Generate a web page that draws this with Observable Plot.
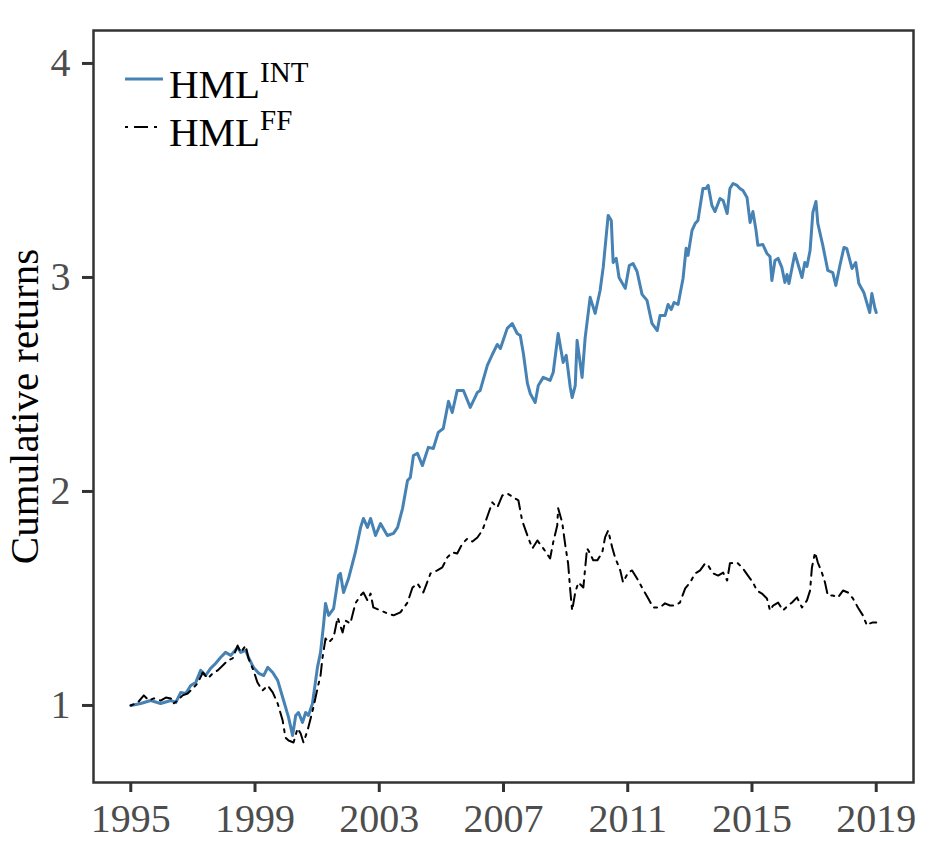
<!DOCTYPE html>
<html><head><meta charset="utf-8">
<script src="https://cdn.jsdelivr.net/npm/d3@7"></script>
<script src="https://cdn.jsdelivr.net/npm/@observablehq/plot@0.6"></script>
<style>body{margin:0;background:#fff} #chart{width:937px;height:845px}</style>
</head><body><div id="chart"></div>
<script>
const xTicks = [1995, 1999, 2003, 2007, 2011, 2015, 2019];
const yTicks = [1, 2, 3, 4];
const yLabel = "Cumulative returns";
const legendBase = "HML";
const legendSup = ["INT", "FF"];

// [decimal year, cumulative return]
const hmlInt = [
[1995.00,1.000],[1995.32,1.009],[1995.64,1.023],[1995.96,1.009],[1996.29,1.023],[1996.45,1.014],
[1996.61,1.061],[1996.77,1.056],[1996.93,1.093],[1997.09,1.107],[1997.25,1.164],[1997.41,1.140],
[1997.57,1.173],[1997.73,1.196],[1997.89,1.224],[1998.05,1.248],[1998.22,1.234],[1998.44,1.271],
[1998.54,1.248],[1998.70,1.257],[1998.79,1.224],[1998.95,1.178],[1999.12,1.150],[1999.28,1.140],
[1999.41,1.178],[1999.57,1.154],[1999.73,1.117],[1999.92,1.023],[2000.08,0.944],[2000.21,0.860],
[2000.31,0.953],[2000.40,0.967],[2000.53,0.921],[2000.63,0.967],[2000.72,0.953],[2000.85,1.009],
[2001.01,1.178],[2001.11,1.248],[2001.21,1.383],[2001.27,1.477],[2001.37,1.421],[2001.53,1.453],
[2001.69,1.607],[2001.75,1.617],[2001.85,1.528],[2002.01,1.593],[2002.23,1.715],[2002.40,1.832],
[2002.49,1.874],[2002.62,1.832],[2002.72,1.874],[2002.88,1.794],[2003.04,1.850],[2003.26,1.794],
[2003.46,1.804],[2003.59,1.832],[2003.75,1.921],[2003.91,2.051],[2004.00,2.065],[2004.10,2.168],
[2004.23,2.178],[2004.39,2.121],[2004.58,2.206],[2004.74,2.201],[2004.90,2.276],[2005.06,2.294],
[2005.23,2.421],[2005.35,2.369],[2005.51,2.472],[2005.71,2.472],[2005.93,2.393],[2006.16,2.463],
[2006.25,2.472],[2006.48,2.589],[2006.64,2.640],[2006.80,2.687],[2006.90,2.668],[2007.12,2.762],
[2007.28,2.785],[2007.44,2.738],[2007.54,2.729],[2007.64,2.645],[2007.77,2.505],[2007.86,2.458],
[2008.02,2.416],[2008.12,2.495],[2008.28,2.533],[2008.50,2.519],[2008.60,2.556],[2008.76,2.738],
[2008.92,2.603],[2009.02,2.636],[2009.15,2.486],[2009.21,2.439],[2009.31,2.495],[2009.37,2.706],
[2009.53,2.533],[2009.63,2.720],[2009.79,2.907],[2009.95,2.832],[2010.11,2.939],[2010.21,3.047],
[2010.37,3.290],[2010.47,3.266],[2010.53,3.070],[2010.63,3.089],[2010.72,3.000],[2010.92,2.949],
[2011.05,3.056],[2011.17,3.065],[2011.30,3.028],[2011.46,2.921],[2011.62,2.893],[2011.78,2.785],
[2011.95,2.752],[2012.04,2.822],[2012.20,2.822],[2012.30,2.874],[2012.40,2.850],[2012.49,2.883],
[2012.62,2.874],[2012.78,2.995],[2012.88,3.136],[2012.94,3.103],[2013.07,3.220],[2013.17,3.252],
[2013.26,3.266],[2013.42,3.416],[2013.52,3.416],[2013.59,3.430],[2013.71,3.336],[2013.81,3.308],
[2013.97,3.369],[2014.07,3.360],[2014.20,3.299],[2014.29,3.416],[2014.39,3.439],[2014.52,3.430],
[2014.61,3.416],[2014.71,3.406],[2014.84,3.374],[2014.94,3.257],[2015.03,3.308],[2015.13,3.220],
[2015.19,3.150],[2015.35,3.154],[2015.48,3.112],[2015.58,3.098],[2015.64,2.986],[2015.74,3.079],
[2015.84,3.089],[2015.96,3.047],[2016.06,2.977],[2016.13,3.014],[2016.19,2.972],[2016.38,3.112],
[2016.61,3.000],[2016.70,3.070],[2016.77,3.051],[2016.87,3.126],[2016.96,3.304],[2017.06,3.355],
[2017.12,3.252],[2017.28,3.150],[2017.44,3.033],[2017.60,3.023],[2017.70,2.963],[2017.83,3.056],
[2017.96,3.140],[2018.05,3.136],[2018.22,3.042],[2018.34,3.070],[2018.44,2.972],[2018.60,2.930],
[2018.79,2.836],[2018.86,2.925],[2018.96,2.855],[2019.00,2.836]
];

const hmlFF = [
[1995.00,1.000],[1995.23,1.014],[1995.42,1.047],[1995.58,1.023],[1995.74,1.033],[1995.96,1.023],
[1996.13,1.037],[1996.29,1.033],[1996.38,1.009],[1996.51,1.023],[1996.67,1.047],[1996.83,1.056],
[1996.99,1.079],[1997.15,1.103],[1997.32,1.154],[1997.48,1.126],[1997.64,1.150],[1997.80,1.164],
[1997.96,1.187],[1998.12,1.210],[1998.28,1.220],[1998.44,1.280],[1998.54,1.248],[1998.70,1.280],
[1998.79,1.220],[1998.95,1.164],[1999.08,1.107],[1999.24,1.070],[1999.41,1.093],[1999.57,1.061],
[1999.73,1.009],[1999.89,0.930],[1999.98,0.850],[2000.08,0.836],[2000.24,0.827],[2000.37,0.893],
[2000.47,0.869],[2000.56,0.827],[2000.69,0.883],[2000.79,0.939],[2000.88,0.991],[2001.01,1.079],
[2001.11,1.140],[2001.17,1.220],[2001.27,1.313],[2001.37,1.294],[2001.53,1.318],[2001.66,1.411],
[2001.82,1.341],[2001.91,1.397],[2002.07,1.383],[2002.23,1.477],[2002.40,1.514],[2002.49,1.528],
[2002.62,1.491],[2002.72,1.523],[2002.81,1.458],[2003.04,1.444],[2003.26,1.430],[2003.46,1.421],
[2003.68,1.435],[2003.91,1.481],[2004.07,1.551],[2004.23,1.570],[2004.42,1.528],[2004.65,1.617],
[2004.87,1.631],[2005.03,1.645],[2005.19,1.692],[2005.35,1.715],[2005.51,1.710],[2005.68,1.757],
[2005.84,1.780],[2006.00,1.766],[2006.16,1.785],[2006.32,1.818],[2006.48,1.883],[2006.64,1.949],
[2006.80,1.925],[2006.96,1.981],[2007.12,1.991],[2007.32,1.972],[2007.48,1.958],[2007.60,1.864],
[2007.77,1.794],[2007.93,1.734],[2008.09,1.771],[2008.28,1.734],[2008.50,1.687],[2008.60,1.762],
[2008.73,1.841],[2008.76,1.921],[2008.89,1.855],[2008.99,1.748],[2009.08,1.664],[2009.15,1.537],
[2009.21,1.444],[2009.31,1.528],[2009.41,1.575],[2009.57,1.551],[2009.69,1.734],[2009.79,1.710],
[2009.89,1.678],[2010.02,1.678],[2010.18,1.715],[2010.27,1.785],[2010.37,1.818],[2010.50,1.738],
[2010.59,1.692],[2010.76,1.631],[2010.85,1.575],[2011.01,1.621],[2011.14,1.631],[2011.30,1.593],
[2011.46,1.551],[2011.66,1.500],[2011.82,1.458],[2012.04,1.458],[2012.20,1.477],[2012.36,1.467],
[2012.52,1.467],[2012.68,1.481],[2012.85,1.547],[2013.01,1.575],[2013.17,1.617],[2013.33,1.631],
[2013.49,1.664],[2013.59,1.654],[2013.75,1.617],[2013.91,1.607],[2014.07,1.621],[2014.20,1.584],
[2014.29,1.664],[2014.52,1.668],[2014.71,1.640],[2014.87,1.607],[2015.03,1.575],[2015.16,1.537],
[2015.32,1.523],[2015.48,1.500],[2015.58,1.444],[2015.68,1.467],[2015.84,1.481],[2016.00,1.444],
[2016.16,1.467],[2016.29,1.481],[2016.45,1.505],[2016.61,1.458],[2016.77,1.491],[2016.87,1.537],
[2016.93,1.645],[2017.03,1.715],[2017.12,1.668],[2017.25,1.621],[2017.35,1.575],[2017.44,1.514],
[2017.60,1.514],[2017.77,1.505],[2017.93,1.537],[2018.09,1.528],[2018.25,1.500],[2018.41,1.458],
[2018.57,1.421],[2018.70,1.374],[2018.79,1.383],[2018.89,1.388],[2019.00,1.388]
];

const FONT = "'Liberation Serif', 'DejaVu Serif', serif";
const BLUE = "#4682b4";
const DASH = "3,6,12,6";
const toRows = arr => arr.map(([t, v]) => ({t, v}));

const chart = Plot.plot({
  width: 937, height: 845,
  marginLeft: 93, marginRight: 24, marginTop: 30, marginBottom: 63,
  style: {fontFamily: FONT, background: "white", overflow: "visible"},
  x: {domain: [1993.8, 2020.2]},
  y: {domain: [0.64, 4.154]},
  marks: [
    Plot.lineY(toRows(hmlInt), {x: "t", y: "v", stroke: BLUE, strokeWidth: 3}),
    Plot.lineY(toRows(hmlFF), {x: "t", y: "v", stroke: "black", strokeWidth: 2, strokeDasharray: DASH}),
    Plot.frame({stroke: "#333", strokeWidth: 2.5}),
    Plot.axisX({ticks: xTicks, tickFormat: d => String(d), tickSize: 10, tickPadding: 11,
      fontSize: 40, stroke: "#333", strokeWidth: 3, fill: "#4d4d4d", label: null}),
    Plot.axisY({ticks: yTicks, tickFormat: d => String(d), tickSize: 11, tickPadding: 12,
      fontSize: 40, stroke: "#333", strokeWidth: 3, fill: "#4d4d4d", label: null}),
    Plot.text([yLabel], {frameAnchor: "left", rotate: -90, dx: -69, textAnchor: "middle",
      fontSize: 41, fill: "black"})
  ]
});
document.getElementById("chart").appendChild(chart);

// legend inside the plot area, top-left
const svg = d3.select(chart);
const lg = svg.append("g").attr("font-family", FONT).attr("fill", "black").attr("text-anchor", "start");
const rowsL = [
  {sup: legendSup[0], stroke: BLUE, w: 3, dash: null, y: 79},
  {sup: legendSup[1], stroke: "black", w: 2, dash: "3,6,14,6", y: 127}
];
rowsL.forEach(r => {
  lg.append("line").attr("x1", 125).attr("x2", 163).attr("y1", r.y).attr("y2", r.y)
    .attr("stroke", r.stroke).attr("stroke-width", r.w).attr("stroke-dasharray", r.dash);
  const t = lg.append("text").attr("x", 169).attr("y", r.y + 19).attr("font-size", 41)
    .attr("text-anchor", "start");
  t.append("tspan").text(legendBase);
  t.append("tspan").attr("dy", -16).attr("font-size", 29).text(r.sup);
});
</script></body></html>
